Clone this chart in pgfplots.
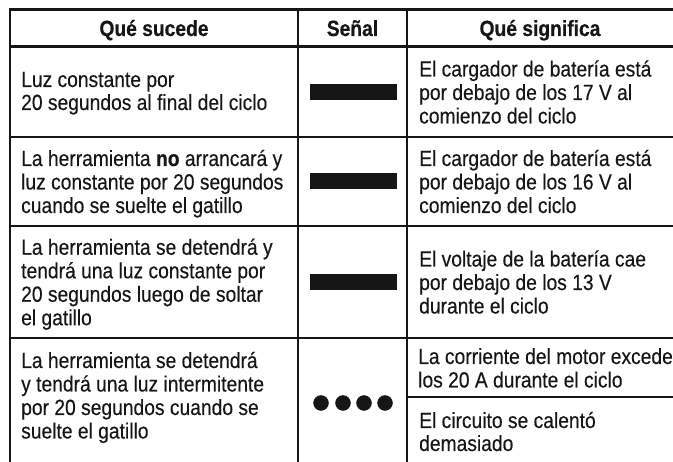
\documentclass[border=0pt]{standalone}
\usepackage{fontspec}
\setmainfont{Liberation Sans}[FakeStretch=0.875,UprightFeatures={FakeBold=0.3},BoldFeatures={FakeBold=0.4}]
\usepackage{pgfplots}
\pgfplotsset{compat=1.18}
\definecolor{ink}{HTML}{161616}
\newcommand{\tfont}{\fontsize{22}{23.5}\selectfont}
\newcommand{\tl}[3]{\node[anchor=base west,inner sep=0pt,font=\tfont,text=ink] at (axis cs:#1,#2) {#3};}
\newcommand{\hd}[3]{\node[anchor=base,inner sep=0pt,font=\tfont\bfseries,text=ink] at (axis cs:#1,#2) {#3};}
\begin{document}
\begin{tikzpicture}
\begin{axis}[width=673pt,height=462pt,scale only axis,
  xmin=0,xmax=673,ymin=0,ymax=462,y dir=reverse,
  hide axis,clip=true]
\path (axis cs:0,0) rectangle (axis cs:673,462);
% grid lines
\draw[ink,line width=3pt] (axis cs:8.5,9.5) -- (axis cs:680,9.5);
\draw[ink,line width=2.5pt] (axis cs:9,46.5) -- (axis cs:680,46.5);
\draw[ink,line width=2pt] (axis cs:9,137) -- (axis cs:680,137);
\draw[ink,line width=2pt] (axis cs:9,226) -- (axis cs:680,226);
\draw[ink,line width=2pt] (axis cs:9,338) -- (axis cs:680,338);
\draw[ink,line width=1.5pt] (axis cs:407,397) -- (axis cs:680,397);
\draw[ink,line width=2.5pt] (axis cs:10,8) -- (axis cs:10,470);
\draw[ink,line width=2pt] (axis cs:298,8) -- (axis cs:298,470);
\draw[ink,line width=2pt] (axis cs:407,8) -- (axis cs:407,470);
% signals
\addplot[fill=ink,draw=none] coordinates {(310,84) (397,84) (397,100) (310,100)} -- cycle;
\addplot[fill=ink,draw=none] coordinates {(310,173.5) (397,173.5) (397,189.5) (310,189.5)} -- cycle;
\addplot[fill=ink,draw=none] coordinates {(310,274) (397,274) (397,290) (310,290)} -- cycle;
\addplot[only marks,mark=*,mark size=7.5pt,color=ink] coordinates {(321,403) (343,403) (364,403) (385,403)};
% header
\hd{154}{36}{Qué sucede}
\hd{352.5}{36}{Señal}
\hd{540}{36}{Qué significa}
% row 1
\tl{21}{87}{Luz constante por}
\tl{21}{110}{20 segundos al final del ciclo}
\tl{419}{76.5}{El cargador de batería está}
\tl{419}{100}{por debajo de los 17 V al}
\tl{419}{123.5}{comienzo del ciclo}
% row 2
\tl{21}{166}{La herramienta \textbf{no} arrancará y}
\tl{21}{189.5}{luz constante por 20 segundos}
\tl{21}{213}{cuando se suelte el gatillo}
\tl{419}{166}{El cargador de batería está}
\tl{419}{189.5}{por debajo de los 16 V al}
\tl{419}{213}{comienzo del ciclo}
% row 3
\tl{21}{254.75}{La herramienta se detendrá y}
\tl{21}{278.25}{tendrá una luz constante por}
\tl{21}{301.75}{20 segundos luego de soltar}
\tl{21}{325.25}{el gatillo}
\tl{419}{266.5}{El voltaje de la batería cae}
\tl{419}{290}{por debajo de los 13 V}
\tl{419}{313.5}{durante el ciclo}
% row 4
\tl{21}{368}{La herramienta se detendrá}
\tl{21}{391.5}{y tendrá una luz intermitente}
\tl{21}{415}{por 20 segundos cuando se}
\tl{21}{438.5}{suelte el gatillo}
\tl{418}{364}{La corriente del motor excede}
\tl{418}{387.5}{los 20 A durante el ciclo}
\tl{419}{428}{El circuito se calentó}
\tl{419}{451}{demasiado}
\end{axis}
\end{tikzpicture}
\end{document}
